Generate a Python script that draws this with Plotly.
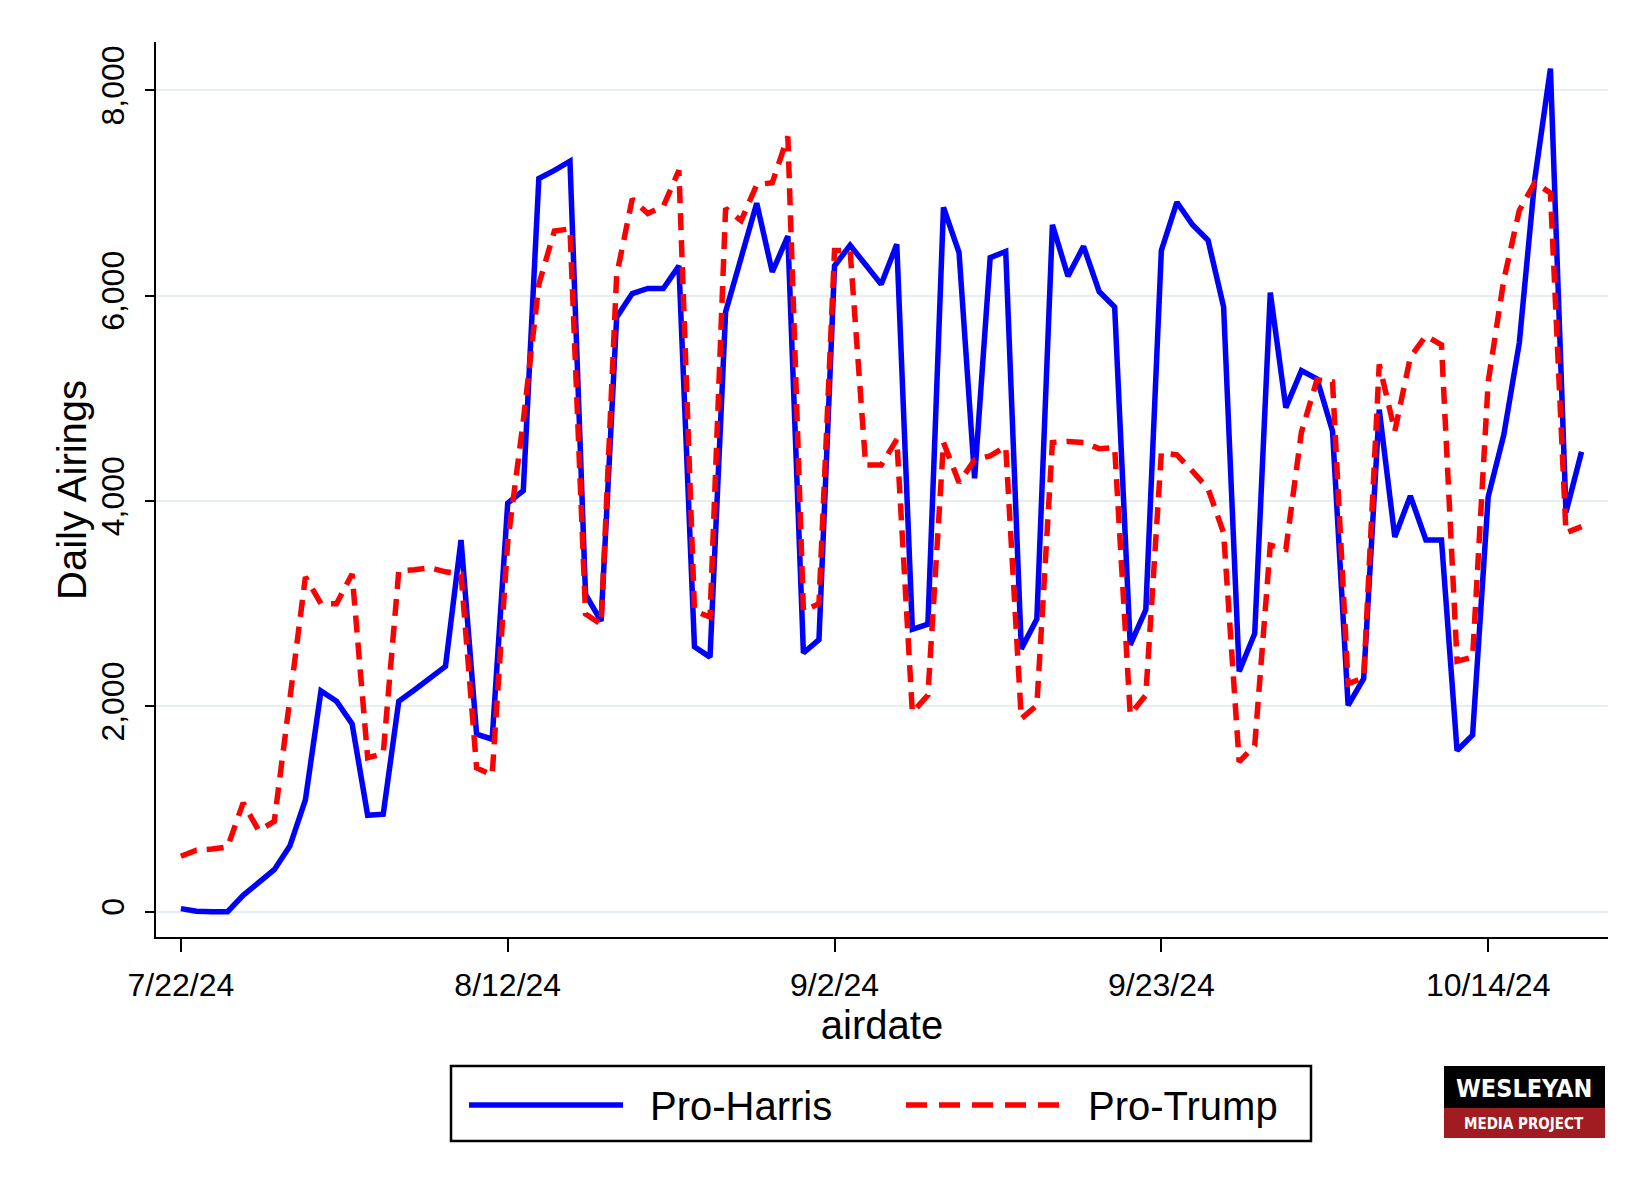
import pandas as pd
import plotly.graph_objects as go

start_date = "2024-07-22"
n_days = 91
dates = pd.date_range(start_date, periods=n_days, freq="D")

pro_harris = [30, 5, 0, 0, 160, 290, 410, 640, 1090, 2150,
              2050, 1830, 940, 950, 2050, 2160, 2270, 2390, 3620, 1730,
              1680, 3980, 4100, 7140, 7220, 7310, 3090, 2830, 5790, 6020,
              6070, 6070, 6290, 2580, 2480, 5840, 6370, 6900, 6230, 6580,
              2520, 2650, 6290, 6490, 6300, 6110, 6500, 2750, 2800, 6860,
              6420, 4220, 6370, 6430, 2560, 2850, 6690, 6190, 6480, 6040,
              5890, 2600, 2940, 6440, 6910, 6690, 6540, 5890, 2340, 2710,
              6030, 4910, 5270, 5190, 4680, 2010, 2270, 4890, 3650, 4050,
              3620, 3620, 1570, 1720, 4040, 4640, 5540, 7140, 8210, 3890,
              4480]

pro_trump = [540, 600, 610, 630, 1060, 790, 880, 2100, 3260, 3000,
             3000, 3290, 1500, 1540, 3320, 3330, 3350, 3310, 3290, 1400,
             1330, 3600, 4780, 6110, 6630, 6650, 2900, 2800, 6200, 6940,
             6800, 6870, 7220, 2930, 2870, 6850, 6730, 7080, 7100, 7550,
             2930, 3000, 6440, 6440, 4350, 4350, 4600, 1940, 2110, 4570,
             4180, 4400, 4440, 4530, 1880, 2010, 4570, 4580, 4570, 4510,
             4520, 1920, 2110, 4470, 4450, 4290, 4120, 3690, 1460, 1620,
             3570, 3530, 4670, 5180, 5160, 2220, 2280, 5330, 4680, 5400,
             5610, 5520, 2440, 2480, 5160, 6150, 6830, 7100, 7000, 3690,
             3750]

x_tick_vals = ["2024-07-22", "2024-08-12", "2024-09-02", "2024-09-23", "2024-10-14"]
x_tick_text = ["7/22/24", "8/12/24", "9/2/24", "9/23/24", "10/14/24"]
y_tick_vals = [0, 2000, 4000, 6000, 8000]

series_names = ["Pro-Harris", "Pro-Trump"]
series_colors = ["#0000ff", "#ff0000"]

W, H = 1651, 1200
L, R, T, B = 156, 43, 42, 263
PW, PH = W - L - R, H - T - B


def px_x(x):
    return (x - L) / PW


def px_y(y):
    return 1 - (y - T) / PH


FONT = "Liberation Sans, Arial, sans-serif"
LW = 5.5

fig = go.Figure()
fig.add_trace(go.Scatter(x=dates, y=pro_harris, mode="lines", name=series_names[0],
                         line=dict(color=series_colors[0], width=LW)))
fig.add_trace(go.Scatter(x=dates, y=pro_trump, mode="lines", name=series_names[1],
                         line=dict(color=series_colors[1], width=LW, dash="17px,10px")))

shapes = []
annotations = []

# legend box
shapes.append(dict(type="rect", xref="paper", yref="paper",
                   x0=px_x(451), x1=px_x(1311), y0=px_y(1066), y1=px_y(1141),
                   line=dict(color="black", width=2.5), fillcolor="white"))
shapes.append(dict(type="line", xref="paper", yref="paper",
                   x0=px_x(469), x1=px_x(623), y0=px_y(1105), y1=px_y(1105),
                   line=dict(color=series_colors[0], width=LW)))
shapes.append(dict(type="line", xref="paper", yref="paper",
                   x0=px_x(906), x1=px_x(1061), y0=px_y(1105), y1=px_y(1105),
                   line=dict(color=series_colors[1], width=LW, dash="21px,12px")))
annotations.append(dict(xref="paper", yref="paper", x=px_x(648), y=px_y(1106),
                        text=series_names[0], showarrow=False, xanchor="left", yanchor="middle",
                        font=dict(family=FONT, size=40, color="black")))
annotations.append(dict(xref="paper", yref="paper", x=px_x(1086), y=px_y(1106),
                        text=series_names[1], showarrow=False, xanchor="left", yanchor="middle",
                        font=dict(family=FONT, size=40, color="black")))

# y-axis title
annotations.append(dict(xref="paper", yref="paper", x=px_x(72), y=px_y(490),
                        text="Daily Airings", showarrow=False, textangle=-90,
                        xanchor="center", yanchor="middle",
                        font=dict(family=FONT, size=40, color="black")))

# logo
shapes.append(dict(type="rect", xref="paper", yref="paper",
                   x0=px_x(1444), x1=px_x(1605), y0=px_y(1066), y1=px_y(1108),
                   line=dict(width=0), fillcolor="black"))
shapes.append(dict(type="rect", xref="paper", yref="paper",
                   x0=px_x(1444), x1=px_x(1605), y0=px_y(1108), y1=px_y(1138),
                   line=dict(width=0), fillcolor="#a01c20"))
annotations.append(dict(xref="paper", yref="paper", x=px_x(1524), y=px_y(1088),
                        text="<b>WESLEYAN</b>", showarrow=False, xanchor="center", yanchor="middle",
                        font=dict(family="DejaVu Sans Condensed, DejaVu Sans", size=25, color="white")))
annotations.append(dict(xref="paper", yref="paper", x=px_x(1524), y=px_y(1124),
                        text="<b>MEDIA PROJECT</b>", showarrow=False, xanchor="center", yanchor="middle",
                        font=dict(family="DejaVu Sans Condensed, DejaVu Sans", size=15, color="white")))

fig.update_layout(
    width=W, height=H,
    margin=dict(l=L, r=R, t=T, b=B),
    paper_bgcolor="white", plot_bgcolor="white",
    showlegend=False,
    shapes=shapes, annotations=annotations,
    font=dict(family=FONT, color="black"),
)
fig.update_xaxes(
    range=["2024-07-20 09:36", "2024-10-21 16:48"],
    tickvals=x_tick_vals, ticktext=x_tick_text,
    ticks="outside", ticklen=13, tickwidth=1.5, tickcolor="black",
    ticklabelstandoff=6,
    showline=True, linecolor="black", linewidth=2,
    showgrid=False, zeroline=False,
    tickfont=dict(size=32, family=FONT),
    title=dict(text="airdate", font=dict(size=40, family=FONT), standoff=6),
)
fig.update_yaxes(
    range=[-246, 8470],
    tickvals=y_tick_vals, tickformat=",d", tickangle=-90,
    ticks="outside", ticklen=9, tickwidth=1.5, tickcolor="black",
    ticklabelstandoff=8,
    showline=True, linecolor="black", linewidth=2,
    showgrid=True, gridcolor="#e6eef1", gridwidth=2, zeroline=False,
    tickfont=dict(size=32, family=FONT),
)

fig.write_html("out.html")
